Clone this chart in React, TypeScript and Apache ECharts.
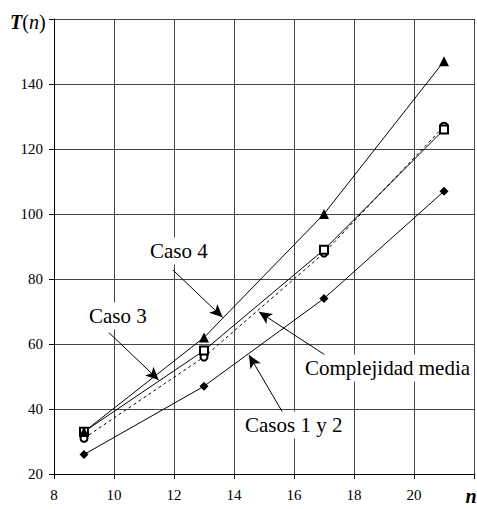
import React, { useEffect, useRef } from "react";
import * as echarts from "echarts";

const nValues = [9, 13, 17, 21];
const caso4 = [33, 62, 100, 147];
const caso3 = [33, 58, 89, 126];
const media = [31, 56, 88, 127];
const casos12 = [26, 47, 74, 107];

const xTicks = [8, 10, 12, 14, 16, 18, 20, 22];
const yTicks = [20, 40, 60, 80, 100, 120, 140, 160];

// arrow annotations in data coordinates: [fromX, fromY, toX, toY]
const arrows = [
  [11.96, 82.8, 13.62, 68.2],
  [9.83, 63.5, 11.49, 48.9],
  [17.04, 56.6, 14.83, 69.9],
  [15.65, 38.5, 14.5, 56.6],
];

const FONT = "Times New Roman, Liberation Serif, DejaVu Serif, serif";

export default function App() {
  const ref = useRef<HTMLDivElement>(null);
  useEffect(() => {
    if (!ref.current) return;
    const chart = echarts.init(ref.current, null, { renderer: "svg" });
    const pts = (ys: number[]) => nValues.map((x, i) => [x, ys[i]]);
    const lineBase = { color: "#000", width: 1 };
    chart.setOption({
      animation: false,
      backgroundColor: "#fff",
      textStyle: { fontFamily: FONT },
      grid: { left: 54, right: 1, top: 19, bottom: 35, containLabel: false },
      xAxis: {
        type: "value",
        min: xTicks[0],
        max: xTicks[xTicks.length - 1],
        interval: 2,
        axisLine: { show: true, lineStyle: { color: "#000", width: 1 } },
        axisTick: { show: true, length: 5, lineStyle: { color: "#000" } },
        axisLabel: {
          margin: 13,
          fontFamily: FONT,
          fontSize: 15,
          color: "#000",
          formatter: (v: number) => (v === 22 ? "" : String(v)),
        },
        splitLine: { show: true, lineStyle: { color: "#444", width: 1 } },
      },
      yAxis: {
        type: "value",
        min: yTicks[0],
        max: yTicks[yTicks.length - 1],
        interval: 20,
        axisLine: { show: true, lineStyle: { color: "#000", width: 1 } },
        axisTick: { show: true, length: 5, lineStyle: { color: "#000" } },
        axisLabel: {
          margin: 11,
          fontFamily: FONT,
          fontSize: 15,
          color: "#000",
          formatter: (v: number) => (v === 160 ? "" : String(v)),
        },
        splitLine: { show: true, lineStyle: { color: "#444", width: 1 } },
      },
      series: [
        {
          name: "Casos 1 y 2",
          type: "line",
          data: pts(casos12),
          symbol: "diamond",
          symbolSize: 9,
          itemStyle: { color: "#000" },
          lineStyle: lineBase,
          z: 3,
        },
        {
          name: "Complejidad media",
          type: "line",
          data: pts(media),
          symbol: "emptyCircle",
          symbolSize: 7,
          itemStyle: { color: "#000", borderColor: "#000", borderWidth: 1 },
          lineStyle: { color: "#000", width: 1, type: [3, 3] },
          z: 3,
        },
        {
          name: "Caso 3",
          type: "line",
          data: pts(caso3),
          symbol: "emptyRect",
          symbolSize: 8,
          itemStyle: { color: "#000", borderColor: "#000", borderWidth: 1 },
          lineStyle: lineBase,
          z: 3,
        },
        {
          name: "Caso 4",
          type: "line",
          data: pts(caso4),
          symbol: "triangle",
          symbolSize: 10,
          itemStyle: { color: "#000" },
          lineStyle: lineBase,
          z: 3,
          markLine: {
            silent: true,
            symbol: ["none", "arrow"],
            symbolSize: [9, 13],
            label: { show: false },
            lineStyle: { color: "#000", width: 1, type: "solid" },
            data: arrows.map((a) => [
              { coord: [a[0], a[1]] },
              { coord: [a[2], a[3]] },
            ]),
          },
        },
      ],
      graphic: [
        {
          type: "text",
          x: 10,
          y: 22,
          style: {
            text: "{b|T}{r|(}{i|n}{r|)}",
            verticalAlign: "middle",
            rich: {
              b: { fontFamily: FONT, fontSize: 20, fontWeight: "bold", fontStyle: "italic", fill: "#000" },
              r: { fontFamily: FONT, fontSize: 20, fill: "#000" },
              i: { fontFamily: FONT, fontSize: 20, fontStyle: "italic", fill: "#000" },
            },
          },
        },
        {
          type: "text",
          x: 471,
          y: 496,
          style: {
            text: "n",
            fontFamily: FONT,
            fontSize: 20,
            fontWeight: "bold",
            fontStyle: "italic",
            fill: "#000",
            align: "center",
            verticalAlign: "middle",
          },
        },
        ...[
          ["Caso 4", 148, 251],
          ["Caso 3", 87, 316],
          ["Complejidad media", 303, 368],
          ["Casos 1 y 2", 243, 425],
        ].map(([t, x, y]) => ({
          type: "text",
          x: x as number,
          y: y as number,
          z: 10,
          style: {
            text: t as string,
            fontFamily: FONT,
            fontSize: 21,
            fill: "#000",
            align: "left",
            verticalAlign: "middle",
            backgroundColor: "#fff",
            padding: [3, 2, 3, 2],
          },
        })),
      ],
    });
    return () => chart.dispose();
  }, []);
  return <div ref={ref} style={{ width: 477, height: 509, position: "absolute", left: 0, top: 0 }} />;
}
